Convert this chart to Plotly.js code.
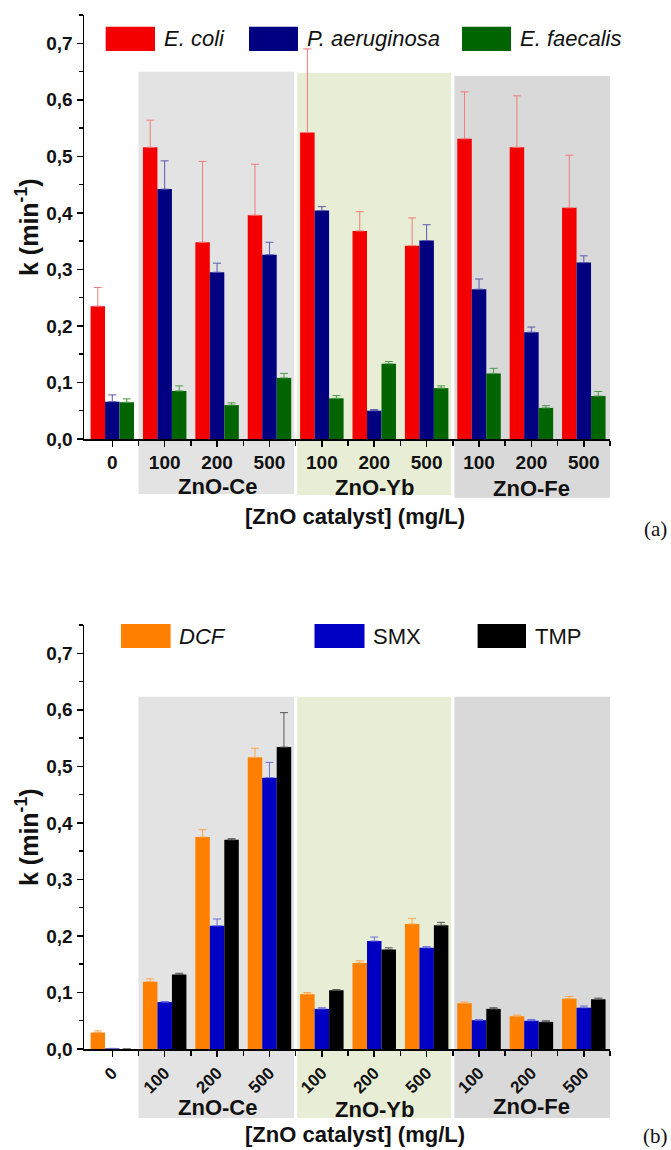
<!DOCTYPE html>
<html><head><meta charset="utf-8">
<script src="https://cdn.plot.ly/plotly-3.0.1.min.js"></script>
<style>html,body{margin:0;padding:0;background:#fff}</style>
</head><body>
<div id="chart" style="width:671px;height:1150px"></div>
<script>
// ---- data ----
const doseLabels = ['0','100','200','500','100','200','500','100','200','500'];
const groupNames = ['ZnO-Ce','ZnO-Yb','ZnO-Fe'];
const groupCenters = [2, 5, 8];

const bacteriaNames = ['E. coli','P. aeruginosa','E. faecalis'];
const ecoli    = [0.235,0.516,0.348,0.396,0.542,0.368,0.342,0.531,0.516,0.409];
const ecoliErr = [0.033,0.048,0.143,0.090,0.148,0.034,0.049,0.083,0.091,0.093];
const paer     = [0.066,0.442,0.295,0.326,0.404,0.050,0.351,0.265,0.189,0.312];
const paerErr  = [0.012,0.050,0.016,0.022,0.007,0.002,0.028,0.018,0.009,0.012];
const efae     = [0.065,0.085,0.060,0.108,0.072,0.133,0.090,0.116,0.055,0.076];
const efaeErr  = [0.006,0.009,0.004,0.008,0.005,0.004,0.004,0.009,0.004,0.008];

const drugNames = ['DCF','SMX','TMP'];
const dcf    = [0.029,0.119,0.375,0.516,0.097,0.152,0.221,0.081,0.058,0.089];
const dcfErr = [0.003,0.005,0.013,0.016,0.003,0.004,0.010,0.002,0.002,0.004];
const smx    = [0.001,0.083,0.218,0.480,0.071,0.191,0.179,0.051,0.050,0.073];
const smxErr = [0.000,0.001,0.012,0.027,0.002,0.007,0.002,0.001,0.002,0.003];
const tmp    = [0.000,0.132,0.370,0.534,0.104,0.176,0.219,0.071,0.048,0.088];
const tmpErr = [0.000,0.002,0.002,0.061,0.001,0.003,0.005,0.002,0.002,0.002];

// ---- geometry helpers ----
const W = 671, H = 1150, L = 84, R = 61, T = 15, B = 101;
const PW = W - L - R, PH = H - T - B;
const px2x = px => (px - L) / PW;
const py2y = py => (H - B - py) / PH;

const xs = doseLabels.map((_, i) => i);
const bounds = xs.map(i => i + 0.5);

const FONT = 'Liberation Sans, Arial, sans-serif';

function barTrace(name, y, err, color, errColor, xa, ya) {
  return {
    type: 'bar', name: name, x: xs, y: y, xaxis: xa, yaxis: ya,
    marker: {color: color, line: {width: 0}},
    error_y: {type: 'data', symmetric: false, array: err,
              arrayminus: err.map(() => 0), color: errColor, thickness: 1, width: 4},
    showlegend: false, hoverinfo: 'skip'
  };
}

const colA = ['#f50000', '#000080', '#006400'];
const errA = ['#f27a7a', '#5a5ab0', '#4d9a4d'];
const colB = ['#ff7f00', '#0000c4', '#000000'];
const errB = ['#ffa64d', '#6a6ae0', '#555555'];

const data = [
  barTrace(bacteriaNames[0], ecoli, ecoliErr, colA[0], errA[0], 'x', 'y'),
  barTrace(bacteriaNames[1], paer, paerErr, colA[1], errA[1], 'x', 'y'),
  barTrace(bacteriaNames[2], efae, efaeErr, colA[2], errA[2], 'x', 'y'),
  barTrace(drugNames[0], dcf, dcfErr, colB[0], errB[0], 'x2', 'y2'),
  barTrace(drugNames[1], smx, smxErr, colB[1], errB[1], 'x2', 'y2'),
  barTrace(drugNames[2], tmp, tmpErr, colB[2], errB[2], 'x2', 'y2')
];

const domA = [py2y(439), 1];
const domB = [0, py2y(625)];

function xAxis(anchor, angle, fs) {
  return {
    domain: [0, 1], anchor: anchor, range: [-0.54, 9.5],
    tickmode: 'array', tickvals: xs, ticktext: doseLabels, tickangle: angle,
    ticks: 'outside', ticklen: 6, tickwidth: 1.5, tickcolor: '#000',
    minor: {tickmode: 'array', tickvals: bounds, ticks: 'outside', ticklen: 5, tickwidth: 1.5, tickcolor: '#000'},
    showline: true, linewidth: 1.5, linecolor: '#000',
    showgrid: false, zeroline: false, fixedrange: true,
    tickfont: {family: FONT, size: fs, weight: 'bold', color: '#111'}
  };
}
function yAxis(anchor, dom) {
  return {
    domain: dom, anchor: anchor, range: [0, 0.75],
    tickmode: 'linear', tick0: 0, dtick: 0.1, tickformat: '.1f',
    ticks: 'outside', ticklen: 6, tickwidth: 1.5, tickcolor: '#000',
    minor: {tick0: 0, dtick: 0.05, ticks: 'outside', ticklen: 4, tickwidth: 1.5, tickcolor: '#000'},
    showline: true, linewidth: 1.5, linecolor: '#000',
    showgrid: false, zeroline: false, fixedrange: true,
    tickfont: {family: FONT, size: 19, weight: 'bold', color: '#111'}
  };
}

// background panels
const panelX = [[0.5, 3.47], [3.53, 6.47], [6.53, 9.55]];
const panelCol = ['#e3e3e3', '#e8eed6', '#d9d9d9'];
const panelA = [[71.7, 494], [72.7, 495], [76, 497.7]];
const panelB = [[696.7, 1118], [696.7, 1118], [696.7, 1118]];

const shapes = [];
panelX.forEach((p, i) => {
  shapes.push({type: 'rect', xref: 'x', yref: 'paper', x0: p[0], x1: p[1],
    y0: py2y(panelA[i][1]), y1: py2y(panelA[i][0]), fillcolor: panelCol[i], line: {width: 0}, layer: 'below'});
  shapes.push({type: 'rect', xref: 'x2', yref: 'paper', x0: p[0], x1: p[1],
    y0: py2y(panelB[i][1]), y1: py2y(panelB[i][0]), fillcolor: panelCol[i], line: {width: 0}, layer: 'below'});
});

const annotations = [];
// legends
const legA = {sw: [[105.7, 155], [249, 298], [462, 511]], tx: [162, 304.5, 518], y: [26.7, 51]};
const legB = {sw: [[121, 170.6], [314.5, 364.5], [477.6, 526]], tx: [177, 371, 533], y: [624, 648]};
function addLegend(leg, names, cols, italic) {
  names.forEach((n, i) => {
    shapes.push({type: 'rect', xref: 'paper', yref: 'paper',
      x0: px2x(leg.sw[i][0]), x1: px2x(leg.sw[i][1]),
      y0: py2y(leg.y[1]), y1: py2y(leg.y[0]), fillcolor: cols[i], line: {width: 0}});
    annotations.push({xref: 'paper', yref: 'paper', x: px2x(leg.tx[i]), y: py2y((leg.y[0] + leg.y[1]) / 2),
      xanchor: 'left', yanchor: 'middle', showarrow: false,
      text: italic[i] ? '<i>' + n + '</i>' : n,
      font: {family: FONT, size: 22, color: '#111'}});
  });
}
addLegend(legA, bacteriaNames, colA, [true, true, true]);
addLegend(legB, drugNames, colB, [true, false, false]);

// group labels
const grpYA = [486, 487, 488];
const grpYB = [1107, 1109, 1106];
groupNames.forEach((g, i) => {
  annotations.push({xref: 'x', yref: 'paper', x: groupCenters[i], y: py2y(grpYA[i]), showarrow: false,
    xanchor: 'center', yanchor: 'middle', text: g, font: {family: FONT, size: 22, weight: 'bold', color: '#111'}});
  annotations.push({xref: 'x2', yref: 'paper', x: groupCenters[i], y: py2y(grpYB[i]), showarrow: false,
    xanchor: 'center', yanchor: 'middle', text: g, font: {family: FONT, size: 22, weight: 'bold', color: '#111'}});
});

// axis titles
const xTitle = '[ZnO catalyst] (mg/L)';
const yTitle = 'k (min<sup>-1</sup>)';
annotations.push({xref: 'paper', yref: 'paper', x: px2x(355), y: py2y(516), showarrow: false,
  xanchor: 'center', yanchor: 'middle', text: xTitle, font: {family: FONT, size: 22, weight: 'bold', color: '#111'}});
annotations.push({xref: 'paper', yref: 'paper', x: px2x(355), y: py2y(1134), showarrow: false,
  xanchor: 'center', yanchor: 'middle', text: xTitle, font: {family: FONT, size: 22, weight: 'bold', color: '#111'}});
annotations.push({xref: 'paper', yref: 'paper', x: px2x(27), y: py2y(227), showarrow: false, textangle: -90,
  xanchor: 'center', yanchor: 'middle', text: yTitle, font: {family: FONT, size: 25, weight: 'bold', color: '#111'}});
annotations.push({xref: 'paper', yref: 'paper', x: px2x(27), y: py2y(837), showarrow: false, textangle: -90,
  xanchor: 'center', yanchor: 'middle', text: yTitle, font: {family: FONT, size: 25, weight: 'bold', color: '#111'}});
// panel letters
annotations.push({xref: 'paper', yref: 'paper', x: px2x(655), y: py2y(529), showarrow: false,
  xanchor: 'center', yanchor: 'middle', text: '(a)', font: {family: 'Liberation Serif, Times New Roman, serif', size: 21, color: '#111'}});
annotations.push({xref: 'paper', yref: 'paper', x: px2x(655), y: py2y(1136), showarrow: false,
  xanchor: 'center', yanchor: 'middle', text: '(b)', font: {family: 'Liberation Serif, Times New Roman, serif', size: 21, color: '#111'}});

const layout = {
  width: W, height: H,
  margin: {l: L, r: R, t: T, b: B, pad: 0},
  paper_bgcolor: '#ffffff', plot_bgcolor: 'rgba(0,0,0,0)',
  separators: ', ',
  barmode: 'group', bargap: 0.17, bargroupgap: 0,
  showlegend: false,
  xaxis: xAxis('y', 0, 19), yaxis: yAxis('x', domA),
  xaxis2: xAxis('y2', -45, 17), yaxis2: yAxis('x2', domB),
  shapes: shapes, annotations: annotations,
  font: {family: FONT, color: '#111'}
};

Plotly.newPlot('chart', data, layout, {staticPlot: true, displayModeBar: false});
</script>
</body></html>
